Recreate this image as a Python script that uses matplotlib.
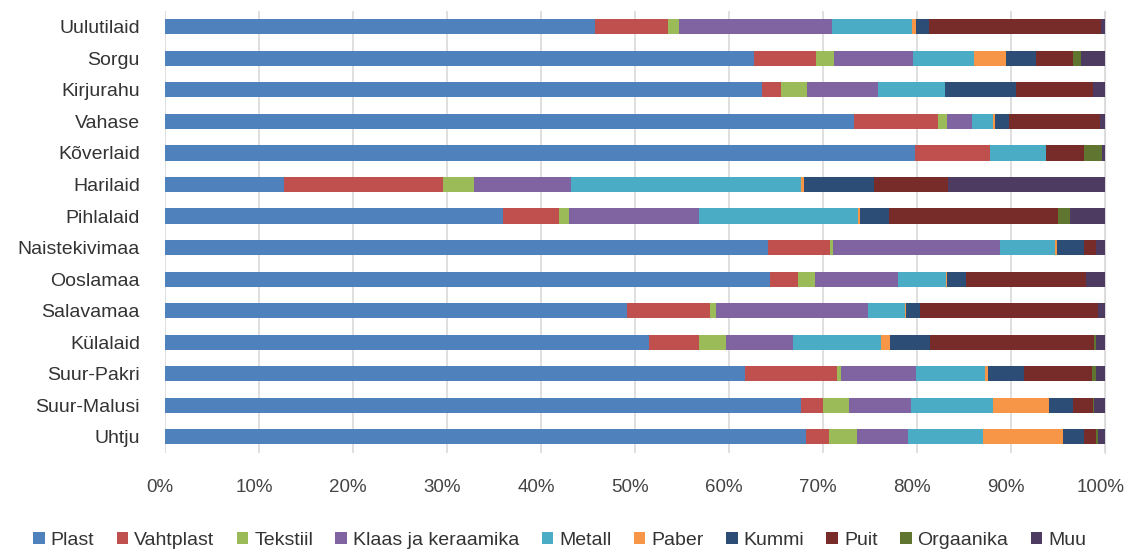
import matplotlib.pyplot as plt
import matplotlib.transforms as mtransforms
import numpy as np

plt.rcParams['font.family'] = ['Liberation Sans', 'DejaVu Sans']

islands = ["Uulutilaid", "Sorgu", "Kirjurahu", "Vahase", "Kõverlaid", "Harilaid",
           "Pihlalaid", "Naistekivimaa", "Ooslamaa", "Salavamaa", "Külalaid",
           "Suur-Pakri", "Suur-Malusi", "Uhtju"]
materials = ["Plast", "Vahtplast", "Tekstiil", "Klaas ja keraamika", "Metall",
             "Paber", "Kummi", "Puit", "Orgaanika", "Muu"]

# share (%) per island, same order as islands
plast =     [45.7, 62.6, 63.5, 73.3, 79.8, 12.7, 36.0, 64.1, 64.3, 49.1, 51.5, 61.7, 67.7, 68.2]
vahtplast = [7.8, 6.6, 2.0, 8.9, 8.0, 16.9, 5.9, 6.6, 3.0, 8.9, 5.3, 9.8, 2.3, 2.4]
tekstiil =  [1.2, 2.0, 2.8, 1.0, 0.0, 3.3, 1.1, 0.4, 1.8, 0.6, 2.9, 0.4, 2.8, 3.0]
klaas =     [16.2, 8.4, 7.5, 2.6, 0.0, 10.3, 13.8, 17.7, 8.9, 16.2, 7.1, 8.0, 6.5, 5.4]
metall =    [8.6, 6.4, 7.2, 2.3, 5.9, 24.5, 16.9, 5.9, 5.1, 3.9, 9.4, 7.3, 8.8, 8.0]
paber =     [0.4, 3.4, 0.0, 0.2, 0.0, 0.3, 0.2, 0.2, 0.1, 0.1, 0.9, 0.3, 5.9, 8.5]
kummi =     [1.4, 3.2, 7.5, 1.5, 0.0, 7.4, 3.1, 2.9, 2.0, 1.5, 4.3, 3.9, 2.6, 2.3]
puit =      [18.3, 4.0, 8.2, 9.7, 4.0, 7.9, 18.0, 1.2, 12.8, 18.9, 17.4, 7.2, 2.1, 1.2]
orgaanika = [0.0, 0.8, 0.0, 0.0, 2.0, 0.0, 1.3, 0.0, 0.0, 0.0, 0.2, 0.4, 0.1, 0.2]
muu =       [0.4, 2.6, 1.3, 0.5, 0.3, 16.7, 3.7, 1.0, 2.0, 0.8, 1.0, 1.0, 1.2, 0.8]

colors = ["#4F81BD", "#C0504D", "#9BBB59", "#8064A2", "#4BACC6",
          "#F79646", "#2C4D75", "#772C2A", "#5F7530", "#4D3B62"]

series = [plast, vahtplast, tekstiil, klaas, metall, paber, kummi, puit, orgaanika, muu]

fig = plt.figure(figsize=(11.26, 5.5), dpi=100)
ax = fig.add_axes([0.1465, 0.177, 0.835, 0.803])

y = np.arange(len(islands))
left = np.zeros(len(islands))
for name, vals, col in zip(materials, series, colors):
    vals = np.array(vals)
    ax.barh(y, vals, left=left, height=0.48, color=col, label=name, zorder=3)
    left += vals

ax.set_ylim(len(islands) - 0.5, -0.5)
ax.set_xlim(0, 100)
ax.set_yticks(y)
ax.set_yticklabels(islands, fontsize=14, color="#333333")
ax.set_xticks(np.arange(0, 101, 10))
ax.set_xticklabels([f"{v}%" for v in range(0, 101, 10)], fontsize=13.5, color="#444444")
ax.tick_params(axis="both", length=0)
ax.tick_params(axis="x", pad=19)
ax.tick_params(axis="y", pad=18)
# labels sit a little left of the bar grid, like the 3D original
shift = mtransforms.ScaledTranslation(-5 / 100, 0, fig.dpi_scale_trans)
for lab in ax.get_xticklabels():
    lab.set_transform(lab.get_transform() + shift)
ax.grid(axis="x", color="#d9d9d9", linewidth=1.2, zorder=0)
for s in ["top", "left", "bottom"]:
    ax.spines[s].set_visible(False)
ax.spines["right"].set_color("#d9d9d9")

fig.legend(loc="lower center", bbox_to_anchor=(0.497, -0.03), ncol=10, frameon=False,
           fontsize=14, handlelength=0.6, handleheight=0.6, handletextpad=0.3,
           columnspacing=1.15, labelcolor="#333333")

fig.savefig("out.png", dpi=100)
plt.close()
